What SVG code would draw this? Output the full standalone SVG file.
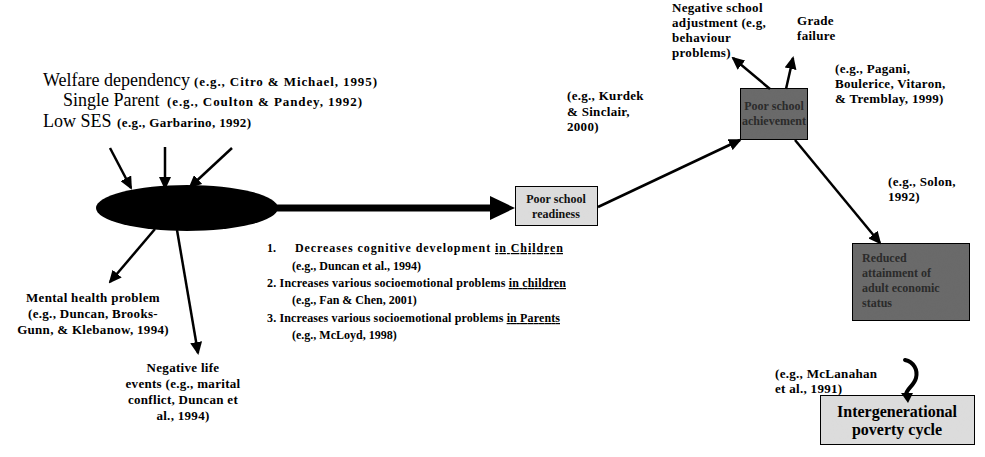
<svg xmlns="http://www.w3.org/2000/svg" width="985" height="457" viewBox="0 0 985 457">
<style>
text{font-family:"Liberation Serif","Times New Roman",serif;fill:#000}
.big{font-size:18px}
.cit{font-size:13px;font-weight:bold}
.sm{font-size:13px;font-weight:bold;letter-spacing:0.3px}
.lst{font-size:12px;font-weight:bold}
.mid{text-anchor:middle}
.ln{stroke:#000;stroke-width:2.5;fill:none}
.lightbox{fill:#dcdcdc;stroke:#000;stroke-width:2}
.darkbox{fill:#6a6a6a;stroke:#000;stroke-width:2}
.bxt{font-size:12px;font-weight:bold;fill:#111}
.dbt{font-size:12px;font-weight:bold;fill:#2b2b2b}
</style>
<defs>
<marker id="ah" markerWidth="13" markerHeight="12" refX="11" refY="6" orient="auto" markerUnits="userSpaceOnUse" viewBox="0 0 13 12">
<path d="M0,0 L13,6 L0,12 Z" fill="#000"/>
</marker>
<filter id="noise" x="0" y="0" width="100%" height="100%">
<feTurbulence type="fractalNoise" baseFrequency="0.9" numOctaves="2" seed="3" result="t"/>
<feColorMatrix in="t" type="matrix" values="0 0 0 0 0  0 0 0 0 0  0 0 0 0 0  0 0 0 -2.2 1.3" result="a"/>
<feComposite in="SourceGraphic" in2="a" operator="in" result="c"/>
<feMerge><feMergeNode in="SourceGraphic"/><feMergeNode in="c"/></feMerge>
</filter>
</defs>

<g id="causes">
<text class="big" x="43" y="86">Welfare dependency</text>
<text class="cit" x="194" y="86" textLength="183" lengthAdjust="spacing">(e.g., Citro &amp; Michael, 1995)</text>
<text class="big" x="63" y="106">Single Parent</text>
<text class="cit" x="167" y="106" textLength="195" lengthAdjust="spacing">(e.g., Coulton &amp; Pandey, 1992)</text>
<text class="big" x="43" y="127">Low SES</text>
<text class="cit" x="117" y="127" textLength="134" lengthAdjust="spacing">(e.g., Garbarino, 1992)</text>
</g>

<g id="poverty">
<ellipse cx="187" cy="208" rx="91" ry="23" fill="#000"/>
</g>

<g id="mental-health">
<text class="sm mid" x="93" y="302">Mental health problem</text>
<text class="sm mid" x="93" y="318">(e.g., Duncan, Brooks-</text>
<text class="sm mid" x="93" y="334">Gunn, &amp; Klebanow, 1994)</text>
</g>

<g id="negative-life-events">
<text class="sm mid" x="183" y="372">Negative life</text>
<text class="sm mid" x="183" y="388">events (e.g., marital</text>
<text class="sm mid" x="183" y="404">conflict, Duncan et</text>
<text class="sm mid" x="183" y="420">al., 1994)</text>
</g>

<g id="effects-list">
<text class="lst" x="267" y="252">1.</text>
<text class="lst" x="295" y="252" textLength="268" lengthAdjust="spacing">Decreases cognitive development <tspan text-decoration="underline">in Children</tspan></text>
<text class="lst" x="292" y="270">(e.g., Duncan et al., 1994)</text>
<text class="lst" x="267" y="287" textLength="299" lengthAdjust="spacing">2. Increases various socioemotional problems <tspan text-decoration="underline">in children</tspan></text>
<text class="lst" x="292" y="304">(e.g., Fan &amp; Chen, 2001)</text>
<text class="lst" x="267" y="322" textLength="293" lengthAdjust="spacing">3. Increases various socioemotional problems <tspan text-decoration="underline">in Parents</tspan></text>
<text class="lst" x="292" y="339">(e.g., McLoyd, 1998)</text>
</g>

<g id="poor-school-readiness">
<rect class="lightbox" x="515" y="186" width="83" height="40" filter="url(#noise)"/>
<text class="bxt mid" x="556" y="203">Poor school</text>
<text class="bxt mid" x="556" y="218">readiness</text>
</g>

<g id="kurdek">
<text class="sm" x="567" y="100">(e.g., Kurdek</text>
<text class="sm" x="567" y="116">&amp; Sinclair,</text>
<text class="sm" x="567" y="131">2000)</text>
</g>

<g id="poor-school-achievement">
<rect class="darkbox" x="740" y="88" width="68" height="52" filter="url(#noise)"/>
<text class="dbt mid" x="774" y="110">Poor school</text>
<text class="dbt mid" x="774" y="125">achievement</text>
</g>

<g id="negative-school-adjustment">
<text class="sm" x="672" y="12">Negative school</text>
<text class="sm" x="672" y="27">adjustment (e.g,</text>
<text class="sm" x="672" y="42">behaviour</text>
<text class="sm" x="672" y="57">problems)</text>
</g>

<g id="grade-failure">
<text class="sm" x="797" y="25">Grade</text>
<text class="sm" x="797" y="40">failure</text>
</g>

<g id="pagani">
<text class="sm" x="835" y="73">(e.g., Pagani,</text>
<text class="sm" x="835" y="88">Boulerice, Vitaron,</text>
<text class="sm" x="835" y="103">&amp; Tremblay, 1999)</text>
</g>

<g id="solon">
<text class="sm" x="888" y="186">(e.g., Solon,</text>
<text class="sm" x="888" y="201">1992)</text>
</g>

<g id="reduced-attainment">
<rect class="darkbox" x="852" y="243" width="118" height="78" filter="url(#noise)"/>
<text class="dbt" x="862" y="262">Reduced</text>
<text class="dbt" x="862" y="277">attainment of</text>
<text class="dbt" x="862" y="292">adult economic</text>
<text class="dbt" x="862" y="307">status</text>
</g>

<g id="mclanahan">
<text class="sm" x="775" y="378">(e.g., McLanahan</text>
<text class="sm" x="775" y="393">et al., 1991)</text>
</g>

<g id="intergenerational-poverty-cycle">
<rect class="lightbox" x="820" y="395" width="155" height="50" filter="url(#noise)"/>
<text class="mid" x="897" y="417" style="font-size:16px;font-weight:bold">Intergenerational</text>
<text class="mid" x="897" y="435" style="font-size:16px;font-weight:bold">poverty cycle</text>
</g>

<g id="connectors">
<line class="ln" x1="110" y1="148" x2="131" y2="188" marker-end="url(#ah)"/>
<line class="ln" x1="165" y1="147" x2="165" y2="188" marker-end="url(#ah)"/>
<line class="ln" x1="232" y1="148" x2="190" y2="187" marker-end="url(#ah)"/>
<line class="ln" x1="155" y1="229" x2="110" y2="282" marker-end="url(#ah)"/>
<line class="ln" x1="177" y1="230" x2="198" y2="353" marker-end="url(#ah)"/>
<line x1="270" y1="208" x2="492" y2="208" stroke="#000" stroke-width="7"/>
<path d="M490,196 L515,208 L490,220 Z" fill="#000"/>
<line class="ln" x1="598" y1="207" x2="740" y2="140" marker-end="url(#ah)"/>
<line class="ln" x1="770" y1="89" x2="733" y2="58" marker-end="url(#ah)"/>
<line class="ln" x1="786" y1="89" x2="793" y2="58" marker-end="url(#ah)"/>
<line class="ln" x1="795" y1="140" x2="880" y2="243" marker-end="url(#ah)"/>
<path d="M905,360 C914,362 918,370 916,378 C914,386 906,389 906,395" stroke="#000" stroke-width="4" fill="none" stroke-linecap="round"/>
<path d="M901,393 L908,403 L913,393 Z" fill="#000"/>
</g>
</svg>
